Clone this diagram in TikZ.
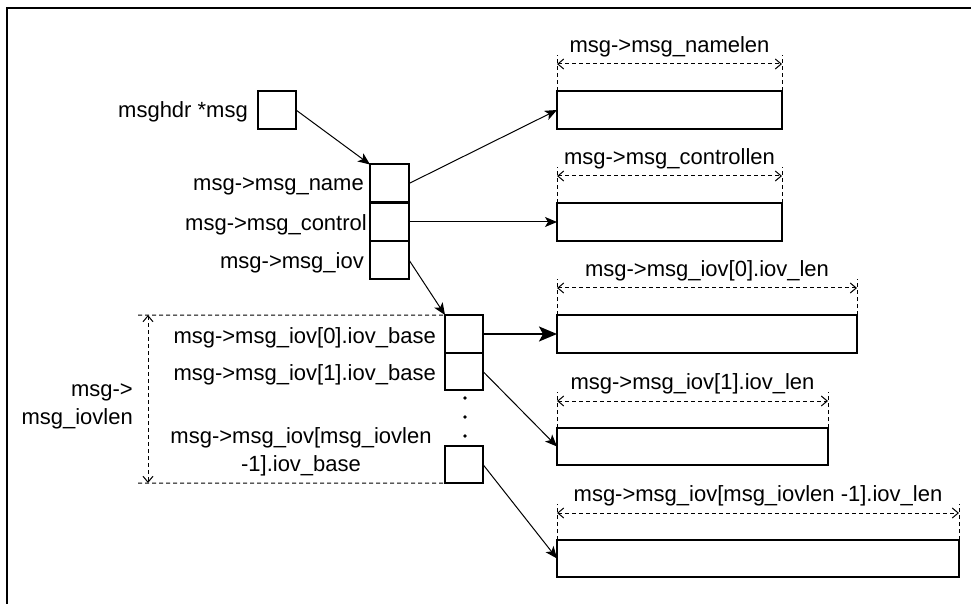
\documentclass[tikz,border=0pt]{standalone}
\usepackage{fontspec}
\setmainfont{Liberation Sans}
\usetikzlibrary{arrows.meta}

\begin{document}
\begin{tikzpicture}[x=1bp,y=-1bp,
  cell/.style={draw,line width=2bp,minimum width=38bp,minimum height=38bp,inner sep=0pt,outer sep=0pt},
  buf/.style={draw,line width=2bp,minimum height=37bp,inner sep=0pt,outer sep=0pt},
  lbl/.style={inner sep=0pt,font=\fontsize{22bp}{28bp}\selectfont},
  ptr/.style={line width=1bp,-{Stealth[length=12bp,width=10bp,inset=3bp]}},
  bigptr/.style={line width=2bp,-{Stealth[length=18bp,width=15bp,inset=4bp]}},
  dim/.style={line width=1bp,dash pattern=on 4bp off 3bp},
  dimarrow/.style={dim,{Straight Barb[length=6bp,width=10bp]}-{Straight Barb[length=6bp,width=10bp]}}
]
\useasboundingbox (0,0) rectangle (971,604);

% outer frame
\draw[line width=2bp] (7,604) -- (7,8) -- (971,8);

% the msghdr pointer
\node[cell] (hdr) at (277,110) {};
\node[lbl,anchor=east] (hdrl) at (248,112) {msghdr *msg};

% struct msghdr fields
\node[cell,minimum width=39bp] (fname) at (389.5,183.5) {};
\node[cell,minimum width=39bp] (fctl) at (389.5,222) {};
\node[cell,minimum width=39bp] (fiov) at (389.5,260) {};
\node[lbl,anchor=east] (fnamel) at (364,186) {msg->msg\_name};
\node[lbl,anchor=east] (fctll) at (367,224.5) {msg->msg\_control};
\node[lbl,anchor=east] (fiovl) at (364,262.5) {msg->msg\_iov};

% iovec array
\node[cell] (i0) at (464,334) {};
\node[cell,minimum height=37bp] (i1) at (464,371.5) {};
\node[cell,minimum height=37bp] (il) at (464,464.5) {};
\node[lbl,anchor=east] (i0l) at (436,338) {msg->msg\_iov[0].iov\_base};
\node[lbl,anchor=east] (i1l) at (436,375) {msg->msg\_iov[1].iov\_base};
\node[lbl,align=center] (ill) at (301,451.5) {msg->msg\_iov[msg\_iovlen\\-1].iov\_base};
\fill (465,398) circle (1.8bp) (465,417) circle (1.8bp) (465,436) circle (1.8bp);

% iovlen bracket
\coordinate (btl) at (138,315);
\coordinate (bbl) at (138,483);
\coordinate (vt) at (148,315);
\coordinate (vb) at (148,483);
\draw[dim] (btl) -- (i0.north west);
\draw[dim] (bbl) -- (il.south west);
\draw[dimarrow] (vt) -- (vb);
\node[lbl,align=right,anchor=east] (lenl) at (133,406) {msg->\\msg\_iovlen};

% buffers
\node[buf,minimum width=225bp,minimum height=38bp] (b1) at (669.5,110) {};
\node[buf,minimum width=225bp,minimum height=38bp] (b2) at (669.5,222) {};
\node[buf,minimum width=300bp,minimum height=38bp] (b3) at (707,334) {};
\node[buf,minimum width=271bp] (b4) at (692.5,446.5) {};
\node[buf,minimum width=402bp] (b5) at (758,558.5) {};

% buffer length markers
\foreach \b/\t in {b1/{msg->msg\_namelen},
                   b2/{msg->msg\_controllen},
                   b3/{msg->msg\_iov[0].iov\_len},
                   b4/{msg->msg\_iov[1].iov\_len},
                   b5/{msg->msg\_iov[msg\_iovlen -1].iov\_len}} {
  \draw[dim] (\b.north west) -- ++(0,-36);
  \draw[dim] (\b.north east) -- ++(0,-36);
  \draw[dimarrow] ([yshift=27bp]\b.north west) -- ([yshift=27bp]\b.north east);
  \node[lbl] at ([yshift=44bp]\b.north) {\t};
}

% pointers
\draw[ptr] (hdr.east) -- (fname.north west);
\draw[ptr] (fname.east) -- (b1.west);
\draw[ptr] (fctl.east) -- (b2.west);
\draw[ptr] (fiov.east) -- (i0.north west);
\draw[bigptr] (i0.east) -- (b3.west);
\draw[ptr] (i1.east) -- (b4.west);
\draw[ptr] (il.east) -- (b5.west);
\end{tikzpicture}
\end{document}
